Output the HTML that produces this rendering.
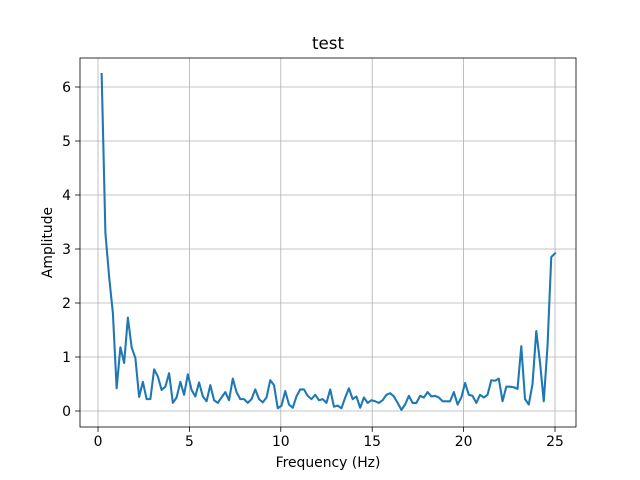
<!DOCTYPE html>
<html><head><meta charset="utf-8"><style>
body{margin:0;background:#fff;}
svg{display:block;font-family:"DejaVu Sans","Liberation Sans",sans-serif;}
</style></head><body>
<svg id="chart" width="640" height="480" xmlns="http://www.w3.org/2000/svg">
<rect x="0" y="0" width="640" height="480" fill="#fff"/>
<g id="grid"></g>
<g id="ticks"></g>
<path id="line" fill="none" stroke="#1f77b4" stroke-width="2.08" stroke-linejoin="round" stroke-linecap="square"/>
<rect x="80" y="58" width="496" height="369" fill="none" stroke="#000" stroke-width="0.8"/>
<text x="328" y="49" text-anchor="middle" font-size="16.7">test</text>
<text x="328" y="467" text-anchor="middle" font-size="13.9">Frequency (Hz)</text>
<text transform="translate(52,242.5) rotate(-90)" text-anchor="middle" font-size="13.9">Amplitude</text>
</svg>
<script>
const xTicks = [0,5,10,15,20,25];
const yTicks = [0,1,2,3,4,5,6];
const amplitudes = [6.24,3.3,2.48,1.81,0.42,1.18,0.89,1.73,1.18,0.98,0.26,0.54,0.22,0.22,0.77,0.64,0.39,0.45,0.7,0.15,0.25,0.54,0.3,0.68,0.39,0.27,0.53,0.27,0.18,0.48,0.2,0.15,0.25,0.35,0.2,0.6,0.35,0.22,0.22,0.15,0.22,0.4,0.22,0.16,0.25,0.57,0.48,0.05,0.1,0.37,0.12,0.06,0.27,0.4,0.4,0.28,0.22,0.3,0.2,0.22,0.15,0.4,0.08,0.1,0.05,0.25,0.42,0.22,0.27,0.06,0.25,0.15,0.2,0.18,0.15,0.2,0.3,0.33,0.27,0.15,0.02,0.12,0.28,0.15,0.15,0.28,0.25,0.35,0.27,0.28,0.25,0.18,0.18,0.18,0.35,0.12,0.25,0.52,0.3,0.28,0.15,0.3,0.25,0.3,0.57,0.56,0.6,0.18,0.45,0.45,0.44,0.41,1.2,0.22,0.12,0.5,1.48,0.9,0.18,1.2,2.85,2.92];
const firstFreq = 0.2;
const lastFreq = 25;

const X = v => 98 + v*18.28;
const Y = v => 411 - v*54;
const NS = "http://www.w3.org/2000/svg";
const grid = document.getElementById('grid');
const ticks = document.getElementById('ticks');
function mk(tag, attrs, parent){const e=document.createElementNS(NS,tag);for(const k in attrs)e.setAttribute(k,attrs[k]);parent.appendChild(e);return e;}
xTicks.forEach(t=>{
  const x=X(t);
  const g=mk('line',{x1:x,x2:x,y1:58,y2:427,stroke:'#b0b0b0','stroke-width':0.8},grid);
  
  
  const tk=mk('line',{x1:x,x2:x,y1:427,y2:431.9,stroke:'#000','stroke-width':0.8},ticks);
  
  
  const tx=mk('text',{x:x,y:446,'text-anchor':'middle','font-size':13.9},ticks);
  tx.textContent=t;
  
  
});
yTicks.forEach(t=>{
  const y=Y(t);
  const g=mk('line',{x1:80,x2:576,y1:y,y2:y,stroke:'#b0b0b0','stroke-width':0.8},grid);
  
  
  const tk=mk('line',{x1:75.1,x2:80,y1:y,y2:y,stroke:'#000','stroke-width':0.8},ticks);
  
  
  const tx=mk('text',{x:71,y:y+5,'text-anchor':'end','font-size':13.9},ticks);
  tx.textContent=t;
  
  
});
const n=amplitudes.length;
let d='';
amplitudes.forEach((v,i)=>{
  const f=firstFreq+i*(lastFreq-firstFreq)/(n-1);
  d+=(i?'L':'M')+X(f).toFixed(2)+' '+Y(v).toFixed(2);
});
document.getElementById('line').setAttribute('d',d);
</script>
</body></html>
